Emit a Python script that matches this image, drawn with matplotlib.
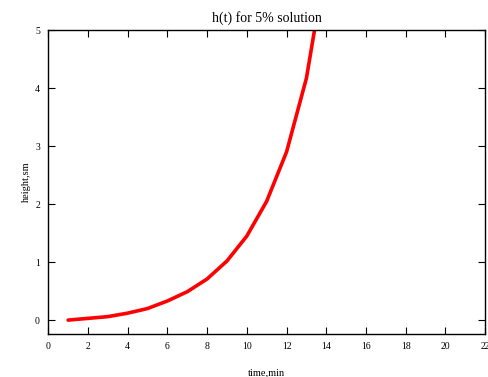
import matplotlib
matplotlib.use("Agg")
import matplotlib.pyplot as plt

# h(t) readings, 5% solution
time_min = [1, 2, 3, 4, 5, 6, 7, 8, 9, 10, 11, 12, 13, 14]
height_sm = [0.0, 0.03, 0.06, 0.12, 0.2, 0.33, 0.49, 0.71, 1.02, 1.45, 2.05, 2.9, 4.17, 6.2]
xticks = list(range(0, 23, 2))
yticks = [0, 1, 2, 3, 4, 5]

plt.rcParams['font.family'] = ['Liberation Serif', 'DejaVu Serif']

fig = plt.figure(figsize=(4.88, 3.77), dpi=100)
ax = fig.add_axes([0.099, 0.114, 0.895, 0.806])

ax.plot(time_min, height_sm, color="red", lw=2.6, solid_capstyle="round")

ax.set_xlim(0, 22)
ax.set_ylim(-0.24, 5)
ax.set_xticks(xticks)
ax.set_yticks(yticks)
ax.tick_params(direction="in", length=5, width=0.8, labelsize=7,
               top=True, right=True, pad=6)

for s in ax.spines.values():
    s.set_linewidth(1.0)

ax.set_title("h(t) for 5% solution", fontsize=10, pad=6)
ax.set_xlabel("time,min", fontsize=7.5, labelpad=12)
ax.set_ylabel("height,sm", fontsize=7.5, labelpad=3)

fig.savefig("out.png", dpi=100)
